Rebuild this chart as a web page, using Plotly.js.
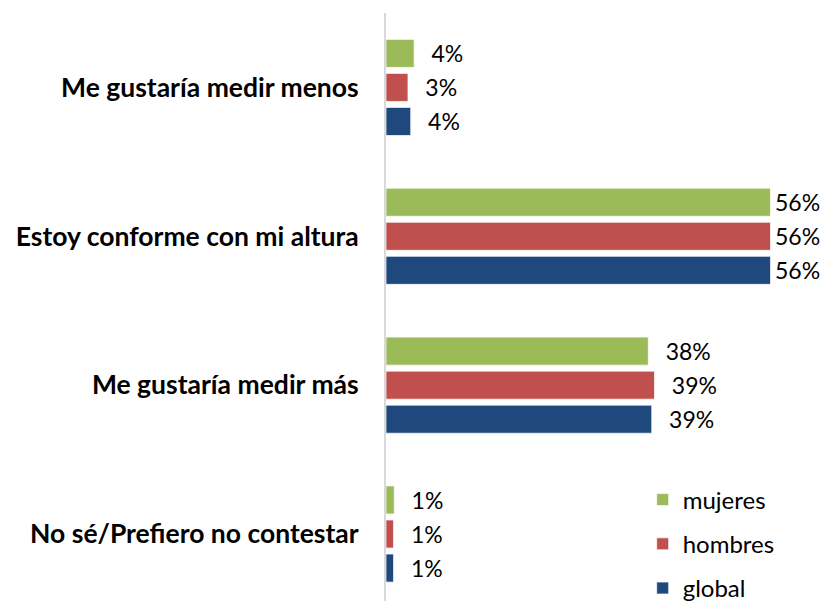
<!DOCTYPE html>
<html>
<head>
<meta charset="utf-8">
<script src="https://cdn.plot.ly/plotly-3.0.1.min.js"></script>
<style>html,body{margin:0;padding:0;background:#fff;}#chart{width:823px;height:601px;}</style>
</head>
<body>
<div id="chart"></div>
<script>
// Categories (top to bottom)
const categories = [
  "Me gustaría medir menos",
  "Estoy conforme con mi altura",
  "Me gustaría medir más",
  "No sé/Prefiero no contestar"
];
// Series values (%)
const mujeres = [4.1, 56, 38.2, 1.2];
const hombres = [3.2, 56, 39.1, 1.1];
const global  = [3.6, 56, 38.7, 1.1];
const seriesNames = ["mujeres", "hombres", "global"];
const seriesColors = ["#9BBB59", "#C0504D", "#1F497D"];

const allSeries = [mujeres, hombres, global];
const FONT = "Lato, 'Liberation Sans', Arial, sans-serif";

const traces = allSeries.map((vals, i) => ({
  type: "bar",
  orientation: "h",
  name: seriesNames[i],
  legendgroup: seriesNames[i],
  x: vals,
  y: categories,
  marker: { color: seriesColors[i], line: { color: "rgba(255,255,255,0.7)", width: 1 } },
  texttemplate: vals.map(v => (v > 50 ? "\u200a" : "\u2002\u2009") + "%{x:.0f}%"),
  textposition: "outside",
  constraintext: "none",
  cliponaxis: false,
  textfont: { family: FONT, size: 23, color: "#000" },
  hoverinfo: "x+name"
}));

const layout = {
  width: 823,
  height: 601,
  margin: { l: 386, r: 24.5, t: 13, b: 0, pad: 0, autoexpand: false },
  paper_bgcolor: "#fff",
  plot_bgcolor: "#fff",
  barmode: "group",
  bargap: 0.314,
  bargroupgap: 0.176,
  showlegend: true,
  legend: {
    x: 0.623, xanchor: "left",
    y: 0.21, yanchor: "top",
    traceorder: "grouped",
    tracegroupgap: 10,
    font: { family: FONT, size: 24, color: "#000" },
    bgcolor: "rgba(0,0,0,0)"
  },
  xaxis: {
    range: [0, 60],
    showgrid: false,
    zeroline: false,
    showline: false,
    showticklabels: false,
    ticks: ""
  },
  yaxis: {
    type: "category",
    range: [3.45, -0.5],
    showgrid: false,
    zeroline: false,
    showline: true,
    linecolor: "#D9D9D9",
    linewidth: 2,
    ticks: "",
    ticklabelstandoff: 20,
    tickfont: { family: FONT, size: 26.5, color: "#000", weight: "bold" }
  }
};

Plotly.newPlot("chart", traces, layout, { displayModeBar: false, staticPlot: true });
</script>
</body>
</html>
